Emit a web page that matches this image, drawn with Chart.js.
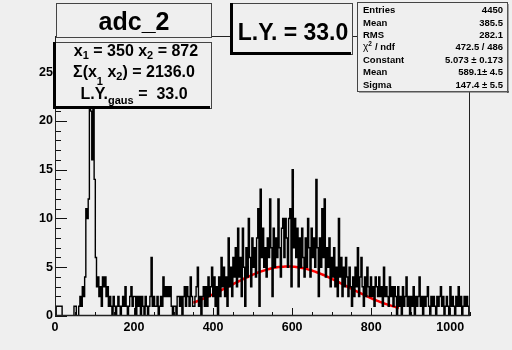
<!DOCTYPE html>
<html lang="en">
<head>
    <meta charset="UTF-8">
    <title>adc_2</title>
    <script src="https://cdn.jsdelivr.net/npm/chart.js"></script>
    <style>
        html, body { margin: 0; padding: 0; background: #efefef; }
        #wrap { width: 512px; height: 350px; }
    </style>
</head>
<body>
    <div id="wrap">
        <canvas id="adc"></canvas>
    </div>
    <script>
        // histogram adc_2: counts per bin, bins of 3 channels from 0 to 1050
        const binWidth = 3;
        const binCounts = [
            0, 1, 1, 1, 1, 1, 0, 0, 0, 0,
            0, 0, 0, 0, 0, 0, 1, 1, 0, 0,
            1, 2, 1, 3, 2, 4, 11, 10, 12, 27,
            21, 16, 24, 14, 6, 3, 4, 2, 3, 1,
            4, 3, 4, 2, 3, 1, 2, 1, 0, 2,
            1, 0, 1, 2, 1, 0, 1, 2, 1, 3,
            1, 0, 1, 2, 3, 1, 2, 2, 0, 2,
            1, 2, 0, 2, 1, 0, 2, 1, 0, 1,
            2, 6, 1, 2, 1, 1, 2, 0, 1, 2,
            1, 4, 2, 3, 2, 3, 2, 3, 1, 0,
            1, 1, 0, 2, 2, 1, 2, 0, 2, 3,
            1, 3, 2, 1, 4, 2, 1, 1, 2, 3,
            5, 1, 2, 0, 2, 3, 1, 3, 1, 4,
            2, 3, 5, 2, 4, 1, 3, 0, 4, 2,
            6, 3, 5, 2, 4, 1, 8, 3, 5, 2,
            6, 4, 7, 3, 9, 4, 6, 2, 9, 5,
            1, 7, 4, 10, 6, 3, 8, 5, 7, 4,
            8, 11, 1, 13, 6, 9, 5, 7, 4, 8,
            6, 12, 7, 2, 9, 5, 8, 6, 12, 7,
            4, 9, 10, 6, 10, 8, 5, 10, 11, 3,
            15, 7, 10, 6, 9, 3, 8, 5, 9, 6,
            4, 8, 5, 10, 7, 4, 9, 6, 8, 5,
            14, 7, 2, 8, 5, 11, 6, 12, 4, 7,
            5, 8, 3, 6, 4, 7, 3, 5, 2, 10,
            4, 6, 2, 5, 3, 6, 4, 2, 5, 3,
            1, 4, 2, 5, 3, 7, 2, 4, 6, 3,
            1, 4, 2, 5, 3, 2, 4, 2, 3, 1,
            4, 3, 2, 4, 2, 3, 1, 5, 2, 3,
            2, 1, 4, 2, 3, 1, 3, 2, 0, 3,
            1, 2, 0, 3, 1, 2, 4, 1, 2, 0,
            2, 1, 3, 0, 2, 1, 2, 4, 1, 2,
            0, 2, 1, 2, 3, 1, 0, 2, 1, 2,
            1, 0, 2, 1, 2, 3, 1, 2, 0, 1,
            2, 1, 0, 3, 1, 2, 1, 0, 2, 1,
            3, 1, 2, 0, 1, 2, 1, 2, 1, 0
        ];

        // gaussian fit result
        const fitConstant = 5.073;
        const fitMean = 589.1;
        const fitSigma = 147.4;
        const fitRange = [350, 872];

        // axis ticks
        const xTickValues = [0, 200, 400, 600, 800, 1000];
        const yTickValues = [0, 5, 10, 15, 20, 25];
        const xMax = 1050;
        const yMax = 28.7;

        // stats box
        const statNames = ['Entries', 'Mean', 'RMS', 'χ2 / ndf', 'Constant', 'Mean', 'Sigma'];
        const statValues = ['4450', '385.5', '282.1', '472.5 / 486', '5.073 ± 0.173', '589.1± 4.5', '147.4 ± 5.5'];

        const integral = '2136.0';
        const lightYield = '33.0';

        // step points at bin left edges, plus closing edge
        const histPoints = binCounts.map((c, i) => ({ x: i * binWidth, y: c }));
        histPoints.push({ x: binCounts.length * binWidth, y: binCounts[binCounts.length - 1] });

        const fitPoints = [];
        for (let x = fitRange[0]; x <= fitRange[1]; x += 4) {
            const z = (x - fitMean) / fitSigma;
            fitPoints.push({ x: x, y: fitConstant * Math.exp(-0.5 * z * z) });
        }

        const BG = '#efefef';
        const FONT = '"Liberation Sans", Arial, sans-serif';

        // draws text pieces; piece = [text, 'sub' | 'sup' | undefined, dy]
        function richText(ctx, parts, cx, base, size) {
            const big = 'bold ' + size + 'px ' + FONT;
            const small = 'bold ' + Math.round(size * 0.68) + 'px ' + FONT;
            let w = 0;
            parts.forEach(p => { ctx.font = p[1] ? small : big; w += ctx.measureText(p[0]).width; });
            let x = cx - w / 2;
            ctx.textAlign = 'left';
            ctx.textBaseline = 'alphabetic';
            parts.forEach(p => {
                ctx.font = p[1] ? small : big;
                let y = base;
                if (p[1] === 'sub') y += (p[2] || 4);
                if (p[1] === 'sup') y -= (p[2] || 5);
                ctx.fillText(p[0], x, y);
                x += ctx.measureText(p[0]).width;
            });
        }

        function pave(ctx, x0, y0, x1, y1, shadow) {
            ctx.fillStyle = BG;
            ctx.fillRect(x0, y0, x1 - x0, y1 - y0);
            ctx.strokeStyle = '#444';
            ctx.lineWidth = 1;
            ctx.strokeRect(x0 + 0.5, y0 + 0.5, x1 - x0 - 1, y1 - y0 - 1);
            ctx.fillStyle = '#000';
            if (shadow === 'left') {
                ctx.fillRect(x0, y0, 3, y1 - y0);
                ctx.fillRect(x0, y1 - 3, x1 - x0 - 2, 3);
            } else if (shadow === 'right') {
                ctx.fillStyle = '#555';
                ctx.fillRect(x1 - 1, y0 + 2, 1.5, y1 - y0 - 1);
                ctx.fillRect(x0 + 2, y1 - 1, x1 - x0 - 1, 1.5);
            }
        }

        const rootFrame = {
            id: 'rootFrame',
            beforeDraw(chart) {
                const ctx = chart.ctx;
                ctx.save();
                ctx.fillStyle = BG;
                ctx.fillRect(0, 0, chart.width, chart.height);
                ctx.restore();
            },
            afterDatasetsDraw(chart) {
                const { ctx, chartArea: a, scales: { x, y } } = chart;
                ctx.save();
                ctx.strokeStyle = '#111';
                ctx.lineWidth = 1;
                ctx.beginPath();
                // y ticks, major every 5, minor every 1
                for (let v = 0; v <= yMax; v++) {
                    const py = Math.round(y.getPixelForValue(v)) + 0.5;
                    const len = v % 5 === 0 ? 12 : 6;
                    ctx.moveTo(a.left, py);
                    ctx.lineTo(a.left + len, py);
                }
                // x ticks, major every 200, minor every 50
                for (let v = 0; v <= xMax; v += 50) {
                    const px = Math.round(x.getPixelForValue(v)) + 0.5;
                    const len = v % 200 === 0 ? 8 : 4;
                    ctx.moveTo(px, a.bottom);
                    ctx.lineTo(px, a.bottom - len);
                }
                ctx.stroke();
                ctx.strokeStyle = '#222';
                ctx.strokeRect(a.left + 0.5, a.top + 0.5, a.right - a.left - 1, a.bottom - a.top - 1);
                ctx.lineWidth = 1.5;
                ctx.beginPath();
                ctx.moveTo(a.left, a.bottom - 0.5);
                ctx.lineTo(a.right, a.bottom - 0.5);
                ctx.stroke();
                ctx.restore();
            },
            afterDraw(chart) {
                const ctx = chart.ctx;
                ctx.save();
                ctx.fillStyle = '#000';

                // title
                pave(ctx, 56, 3, 212, 38);
                ctx.fillStyle = '#000';
                ctx.font = 'bold 25px ' + FONT;
                ctx.textAlign = 'center';
                ctx.textBaseline = 'alphabetic';
                ctx.fillText('adc_2', 134, 30);

                // integration window
                pave(ctx, 53, 42, 212, 109, 'left');
                ctx.fillStyle = '#000';
                richText(ctx, [['x'], ['1', 'sub', 3], [' = ' + fitRange[0] + ' x'], ['2', 'sub', 3], [' = ' + fitRange[1]]], 136, 56, 16);
                richText(ctx, [['Σ(x'], ['1', 'sub', 8], [' x'], ['2', 'sub', 3], [') = ' + integral]], 134, 77, 16);
                richText(ctx, [['L.Y.'], ['gaus', 'sub', 5], [' =  ' + lightYield]], 134, 99, 16);

                // light yield
                pave(ctx, 230, 3, 353, 55, 'left');
                ctx.fillStyle = '#000';
                ctx.font = 'bold 23px ' + FONT;
                ctx.textAlign = 'center';
                ctx.fillText('L.Y. = ' + lightYield, 293, 40);

                // stats
                pave(ctx, 357, 2, 508, 92, 'right');
                ctx.fillStyle = '#000';
                ctx.textBaseline = 'middle';
                statNames.forEach((name, i) => {
                    const ry = 10.5 + i * 12.4;
                    ctx.font = 'bold 9.5px ' + FONT;
                    ctx.textAlign = 'left';
                    if (name.startsWith('χ2')) {
                        ctx.font = '10px ' + FONT;
                        ctx.fillText('χ', 363, ry);
                        const cw = ctx.measureText('χ').width;
                        ctx.font = 'bold 6.5px ' + FONT;
                        ctx.fillText('2', 363 + cw, ry - 3);
                        ctx.font = 'bold 9.5px ' + FONT;
                        ctx.fillText(' / ndf', 363 + cw + 4, ry);
                    } else {
                        ctx.fillText(name, 363, ry);
                    }
                    ctx.textAlign = 'right';
                    ctx.fillText(statValues[i], 503, ry);
                });
                ctx.restore();
            }
        };

        const tickFont = { family: FONT, size: 12.5, weight: 'bold' };

        new Chart(document.getElementById('adc'), {
            type: 'line',
            data: {
                datasets: [{
                    label: 'adc_2',
                    data: histPoints,
                    stepped: true,
                    borderColor: '#000',
                    borderWidth: 1.4,
                    pointRadius: 0,
                    fill: false
                }, {
                    label: 'gaus',
                    data: fitPoints,
                    borderColor: '#ff0000',
                    borderWidth: 2.5,
                    pointRadius: 0,
                    tension: 0,
                    fill: false
                }]
            },
            options: {
                responsive: true,
                maintainAspectRatio: false,
                animation: false,
                layout: { padding: { top: 36, right: 42, left: 0, bottom: 0 } },
                plugins: {
                    legend: { display: false },
                    tooltip: { enabled: false }
                },
                scales: {
                    x: {
                        type: 'linear',
                        min: 0,
                        max: xMax,
                        grid: { display: false, drawTicks: false },
                        border: { display: false },
                        afterBuildTicks: s => { s.ticks = xTickValues.map(v => ({ value: v })); },
                        afterFit: s => { s.height = 34; },
                        ticks: { font: tickFont, color: '#000', padding: 4, maxRotation: 0, autoSkip: false, callback: v => String(v) }
                    },
                    y: {
                        type: 'linear',
                        min: 0,
                        max: yMax,
                        grid: { display: false, drawTicks: false },
                        border: { display: false },
                        afterBuildTicks: s => { s.ticks = yTickValues.map(v => ({ value: v })); },
                        afterFit: s => { s.width = 55; },
                        ticks: { font: tickFont, color: '#000', padding: 2, callback: v => String(v) }
                    }
                }
            },
            plugins: [rootFrame]
        });
    </script>
</body>
</html>
